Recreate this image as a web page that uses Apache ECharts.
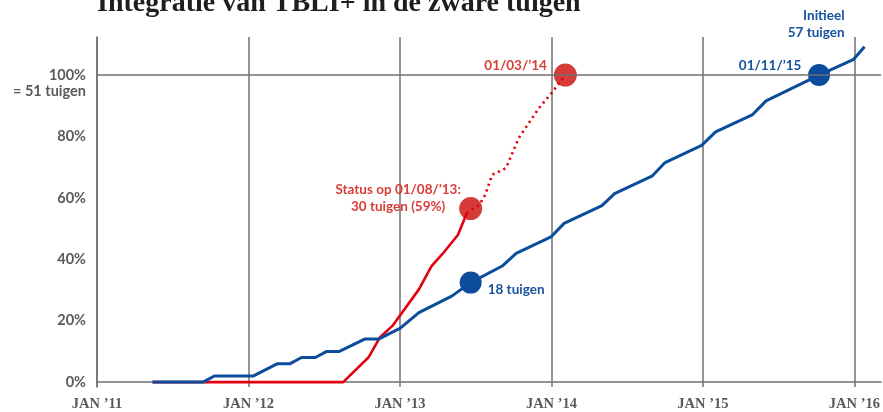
<!DOCTYPE html>
<html>
<head>
<meta charset="utf-8">
<script src="https://cdn.jsdelivr.net/npm/echarts@6/dist/echarts.min.js"></script>
<style>
html,body{margin:0;padding:0;background:#fff;}
#chart{width:883px;height:412px;}
</style>
</head>
<body>
<div id="chart"></div>
<script>
// x values are months since JAN '11
const tickLabels = ['JAN \u201911','JAN \u201912','JAN \u201913','JAN \u201914','JAN \u201915','JAN \u201916'];
const yTicks = [0, 20, 40, 60, 80, 100];

const blueX = [4.4, 8.4, 9.3, 12.4, 14.3, 15.3, 16.2, 17.3, 18.2, 19.2, 21.2, 22.3, 24.0, 25.5, 28.1, 29.6, 32.1, 33.2, 36.0, 37.0, 40.0, 41.0, 44.0, 45.0, 47.9, 49.0, 51.9, 53.0, 57.2, 59.9, 60.8];
const blueY = [0, 0, 2, 2, 6, 6, 8, 8, 10, 10, 14, 14, 17.5, 22.6, 28, 32.4, 37.8, 41.9, 47.4, 51.7, 57.5, 61.4, 67.2, 71.5, 77.1, 81.5, 87, 91.6, 100, 105, 109.2];

const redX = [4.4, 19.5, 21.5, 22.4, 23.4, 25.5, 26.5, 27.4, 28.6, 29.3];
const redY = [0, 0, 8, 14.5, 18.3, 30.2, 37.8, 41.9, 48, 55.1];

const redPlanX = [29.3, 30.3, 30.75, 31.3, 32.4, 33.4, 35.0, 36.0, 37.1];
const redPlanY = [55.1, 57.8, 61, 67.5, 69.7, 79.4, 89.2, 94.1, 100];

const redDotX = [29.6, 37.1];
const redDotY = [56.5, 100];
const redDotLabels = ['Status op 01/08/\u201913:\n30 tuigen (59%)', '01/03/\u201914'];

const blueDotX = [29.6, 57.2];
const blueDotY = [32.4, 100];
const blueDotLabels = ['18 tuigen', '01/11/\u201915'];
const blueEndLabel = 'Initieel\n57 tuigen';

const BLUE = '#0b4d9c';
const RED = '#e3000f';
const REDDOT = '#d3302e';
const GRID = '#707070';
const TXT = '#5a5a5a';
const FONT = 'Lato';

const zip = (xs, ys) => xs.map((x, i) => [x, ys[i]]);

const chart = echarts.init(document.getElementById('chart'), null, {renderer: 'canvas'});

const labelBase = {show: true, fontFamily: FONT, fontWeight: 'bold', fontSize: 13.5, lineHeight: 17, verticalAlign: 'middle'};

const option = {
  animation: false,
  backgroundColor: '#fff',
  graphic: [{
    type: 'text', x: 97, y: -10,
    style: {text: 'Integratie van TBLI+ in de zware tuigen', fill: '#1e1e1e', font: 'bold 28px "Liberation Serif"', textVerticalAlign: 'top'}
  }],
  grid: {left: 97, right: 0, top: 37, bottom: 24, containLabel: false},
  xAxis: {
    type: 'value', min: 0, max: 62.11, interval: 12,
    axisLine: {show: true, lineStyle: {color: GRID, width: 1.5}},
    axisTick: {show: false},
    splitLine: {show: true, showMaxLine: false, lineStyle: {color: GRID, width: 1.5}},
    axisLabel: {
      margin: 10, color: TXT, fontFamily: '"Liberation Serif"', fontWeight: 'bold', fontSize: 14.5,
      showMaxLabel: false,
      formatter: v => (v % 12 === 0 && tickLabels[v / 12]) ? tickLabels[v / 12] : ''
    }
  },
  yAxis: {
    type: 'value', min: -1.6, max: 112.4,
    axisLine: {show: true, lineStyle: {color: GRID, width: 1.5}},
    axisTick: {show: false},
    splitLine: {show: false},
    axisLabel: {
      customValues: yTicks, margin: 11, color: TXT, fontFamily: FONT, fontWeight: 'bold', fontSize: 14.5, lineHeight: 16,
      formatter: v => v === 100 ? ' \n100%\n= 51 tuigen' : v + '%'
    }
  },
  series: [
    {
      type: 'scatter', name: 'redDots', symbolSize: 23, z: 1,
      itemStyle: {color: REDDOT, opacity: 0.95},
      data: [
        {value: [redDotX[0], redDotY[0]], label: Object.assign({}, labelBase, {formatter: redDotLabels[0], color: '#d8322c', position: [-61, 1.5], align: 'center'})},
        {value: [redDotX[1], redDotY[1]], label: Object.assign({}, labelBase, {formatter: redDotLabels[1], color: '#d8322c', position: [-7, 2.3], align: 'right'})}
      ]
    },
    {
      type: 'scatter', name: 'blueDots', symbolSize: 22, z: 1,
      itemStyle: {color: BLUE, opacity: 1},
      data: [
        {value: [blueDotX[0], blueDotY[0]], label: Object.assign({}, labelBase, {formatter: blueDotLabels[0], color: '#1652a0', position: [28, 17.7], align: 'left'})},
        {value: [blueDotX[1], blueDotY[1]], label: Object.assign({}, labelBase, {formatter: blueDotLabels[1], color: '#1652a0', position: [-6.7, 1.8], align: 'right'})},
        {value: [blueX[blueX.length - 1], blueY[blueY.length - 1]], symbolSize: 0, label: Object.assign({}, labelBase, {formatter: blueEndLabel, color: '#1652a0', position: [-20, -23], align: 'right'})}
      ]
    },
    {
      type: 'line', name: 'red', showSymbol: false, z: 3,
      lineStyle: {color: RED, width: 2.6, join: 'round'},
      data: zip(redX, redY),
      markLine: {
        silent: true, symbol: 'none', label: {show: false},
        lineStyle: {color: GRID, width: 1.5, type: 'solid'},
        data: [{yAxis: 100}]
      }
    },
    {
      type: 'line', name: 'redPlan', showSymbol: false, z: 3,
      lineStyle: {color: RED, width: 2.6, type: [2.2, 3.8]},
      data: zip(redPlanX, redPlanY)
    },
    {
      type: 'line', name: 'blue', showSymbol: false, z: 4,
      lineStyle: {color: BLUE, width: 3, join: 'round'},
      data: zip(blueX, blueY)
    }
  ]
};
chart.setOption(option);
</script>
</body>
</html>
